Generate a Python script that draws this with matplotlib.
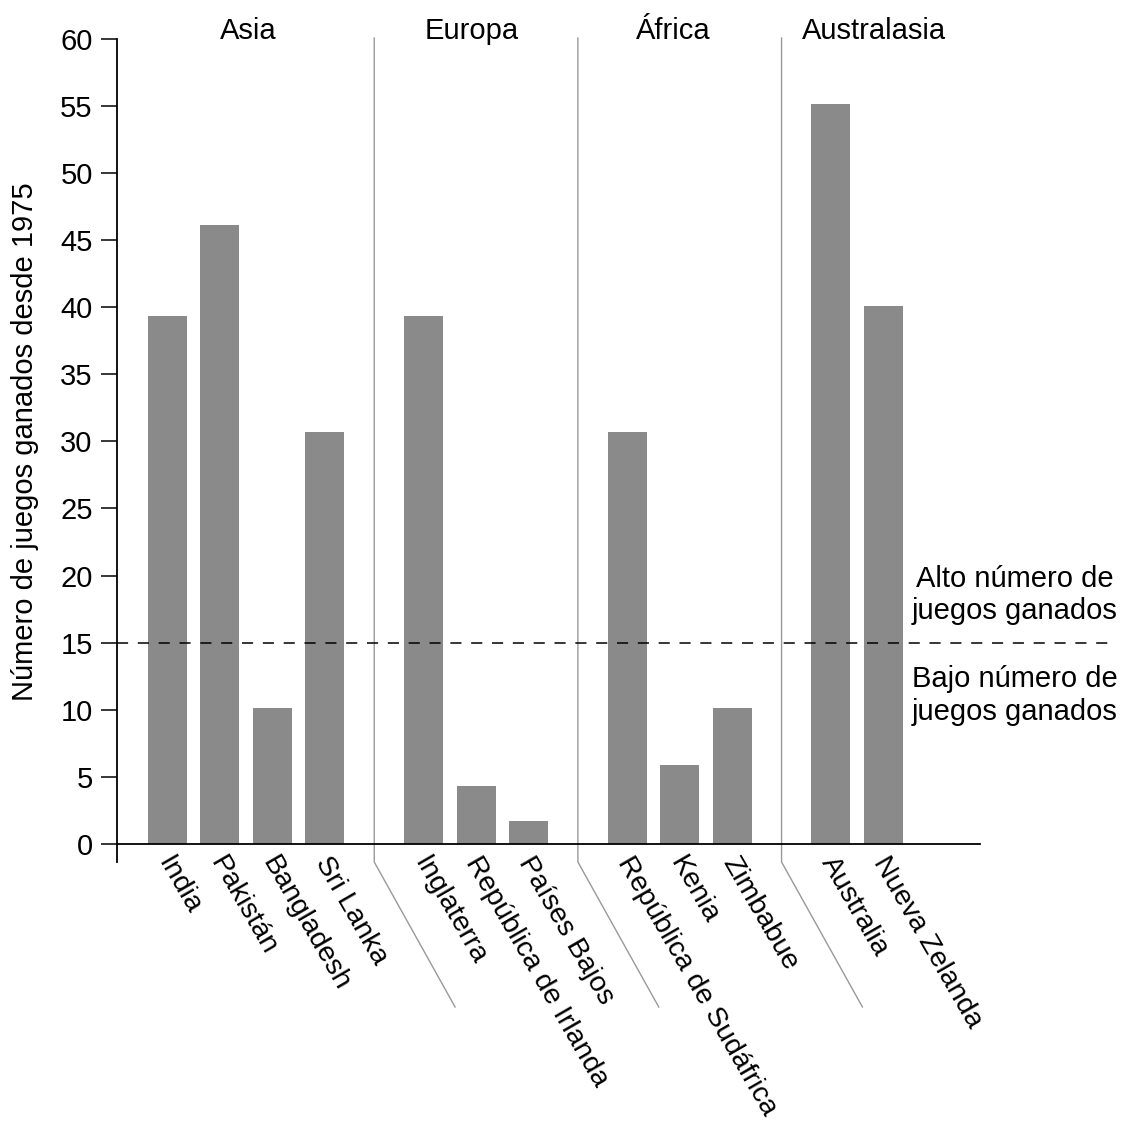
"""
Bar chart of cricket world cup games won since 1975, grouped by region
"""
# IMPORTS
import matplotlib
matplotlib.use('Agg')
import matplotlib.pyplot as plt
import matplotlib.transforms as mtransforms

# VARIABLES
regions = ['Asia', 'Europa', 'África', 'Australasia']
countries = [
    ['India', 'Pakistán', 'Bangladesh', 'Sri Lanka'],
    ['Inglaterra', 'República de Irlanda', 'Países Bajos'],
    ['República de Sudáfrica', 'Kenia', 'Zimbabue'],
    ['Australia', 'Nueva Zelanda'],
]
games_won = [
    [39.3, 46.1, 10.1, 30.7],
    [39.3, 4.3, 1.7],
    [30.7, 5.9, 10.1],
    [55.1, 40.1],
]
threshold = 15
y_ticks = list(range(0, 61, 5))
y_label = 'Número de juegos ganados desde 1975'
high_text = 'Alto número de\njuegos ganados'
low_text = 'Bajo número de\njuegos ganados'

BAR_COLOR = '#8a8a8a'
SEP_COLOR = '#999999'
GROUP_GAP = 1.88
FONT_SIZE = 21
TICK_FONT_SIZE = 20.5
# small horizontal nudges for the region titles
label_nudge = [0.05, -0.08, -0.13, -0.13]

plt.rcParams['font.family'] = ['Liberation Sans', 'DejaVu Sans']
plt.rcParams['lines.scale_dashes'] = False


# FUNCTIONS
def group_positions(groups, gap):
    """Bar positions for each group, one unit apart inside a group."""
    positions = []
    start = 0.0
    for group in groups:
        positions.append([start + i for i in range(len(group))])
        start = positions[-1][-1] + gap
    return positions


# EXECUTION
fig = plt.figure(figsize=(11.21, 11.24), dpi=100)
ax = fig.add_axes([0.1044, 0.2491, 0.7698, 0.7166])

positions = group_positions(countries, GROUP_GAP)
flat_x = [x for grp in positions for x in grp]
flat_names = [n for grp in countries for n in grp]
flat_vals = [v for grp in games_won for v in grp]

ax.bar(flat_x, flat_vals, width=0.743, color=BAR_COLOR, zorder=2)

x_left = -0.96
x_right = 15.48
ax.set_xlim(x_left, x_right)
ax.set_ylim(0, 60)

# Axes styling
for side in ['top', 'right']:
    ax.spines[side].set_visible(False)
ax.spines['left'].set_linewidth(1.3)
ax.spines['bottom'].set_linewidth(1.3)
ax.spines['left'].set_bounds(-1.34, 60)

ax.set_yticks(y_ticks)
ax.tick_params(axis='y', direction='out', length=11.5, width=1.1,
               labelsize=FONT_SIZE, pad=6)
ax.set_xticks(flat_x)
ax.set_xticklabels(flat_names, rotation=-60, ha='left', va='top',
                   rotation_mode='anchor', fontsize=TICK_FONT_SIZE)
ax.tick_params(axis='x', length=0, pad=6)
shift = mtransforms.ScaledTranslation(5 / 72, 0, fig.dpi_scale_trans)
for label in ax.get_xticklabels():
    label.set_transform(label.get_transform() + shift)
ax.set_ylabel(y_label, fontsize=FONT_SIZE, labelpad=15)

# Region separators and labels
bounds = [x_left]
for a, b in zip(positions[:-1], positions[1:]):
    sep = (a[-1] + b[0]) / 2
    bounds.append(sep)
    ax.plot([sep, sep, sep + 1.54], [60.04, -1.34, -12.14], color=SEP_COLOR,
            lw=1.0, clip_on=False, zorder=1)
bounds.append(x_right)

for i, name in enumerate(regions):
    mid = (bounds[i] + bounds[i + 1]) / 2 + label_nudge[i]
    ax.text(mid, 60.0, name, fontsize=FONT_SIZE, ha='center', va='baseline')

# Threshold line and texts
ax.plot([x_left, 17.95], [threshold, threshold], color='black', lw=1.1,
        dashes=(8, 7), clip_on=False, zorder=3)
ax.text(16.14, threshold + 1.3, high_text, fontsize=FONT_SIZE, ha='center',
        va='bottom', clip_on=False)
ax.text(16.14, threshold - 1.7, low_text, fontsize=FONT_SIZE, ha='center',
        va='top', clip_on=False)

# OUTPUT
fig.savefig('out.png', dpi=100)

# END OF FILE
